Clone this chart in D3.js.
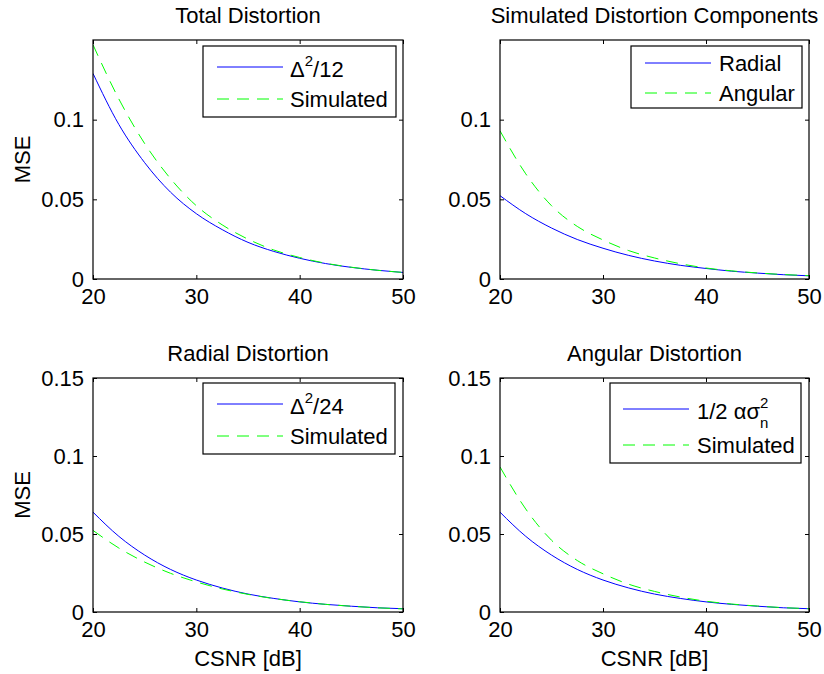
<!DOCTYPE html>
<html>
<head>
<meta charset="utf-8">
<script src="https://cdn.jsdelivr.net/npm/d3@7"></script>
<style>
  body { margin: 0; background: #fff; }
  svg text { font-family: "Liberation Sans", Arial, sans-serif; fill: #000; }
</style>
</head>
<body>
<div id="chart"></div>
<script>
// values
const csnr = [20, 22.5, 25, 27.5, 30, 32.5, 35, 37.5, 40, 42.5, 45, 47.5, 50];

const totalTheory = [0.129, 0.097, 0.073, 0.0545, 0.041, 0.031, 0.023, 0.0173, 0.013, 0.0097, 0.0073, 0.0055, 0.0041];
const totalSim = [0.147, 0.113, 0.085, 0.063, 0.046, 0.034, 0.025, 0.0182, 0.0135, 0.0099, 0.0074, 0.0055, 0.0041];

const radialTheory = [0.064, 0.0485, 0.0365, 0.0273, 0.0205, 0.0154, 0.0115, 0.0087, 0.0065, 0.0049, 0.0037, 0.0027, 0.0021];
const radialSim = [0.0523, 0.041, 0.032, 0.0248, 0.0193, 0.0148, 0.0113, 0.0086, 0.0066, 0.0049, 0.0037, 0.0027, 0.002];

const angularTheory = [0.064, 0.0485, 0.0365, 0.0273, 0.0205, 0.0154, 0.0115, 0.0087, 0.0065, 0.0049, 0.0037, 0.0027, 0.0021];
const angularSim = [0.093, 0.066, 0.046, 0.033, 0.0245, 0.0178, 0.0132, 0.0096, 0.0069, 0.0051, 0.0038, 0.0028, 0.0021];

const xTicks = [20, 30, 40, 50];
const yTicksTop = [0, 0.05, 0.1];
const yTicksBottom = [0, 0.05, 0.1, 0.15];

const w = 824;
const h = 674;
const fontSize = 22;

const panels = [
  { title: 'Total Distortion', box: [93, 40, 403, 279], yTicks: yTicksTop, ylabel: true, xlabel: false,
    series: [totalTheory, totalSim],
    legend: { box: [203, 46, 396, 117], x1: 217, x2: 283, tx: 290, rows: [67, 99],
      labels: [{ main: 'Δ', sup: '2', rest: '/12' }, { main: 'Simulated' }] } },
  { title: 'Simulated Distortion Components', box: [500, 40, 809, 279], yTicks: yTicksTop, ylabel: false, xlabel: false,
    series: [radialSim, angularSim],
    legend: { box: [631, 46, 802, 108], x1: 645, x2: 711, tx: 719, rows: [63, 93],
      labels: [{ main: 'Radial' }, { main: 'Angular' }] } },
  { title: 'Radial Distortion', box: [93, 378, 403, 612], yTicks: yTicksBottom, ylabel: true, xlabel: true,
    series: [radialTheory, radialSim],
    legend: { box: [203, 383, 395, 454], x1: 217, x2: 283, tx: 290, rows: [404, 436],
      labels: [{ main: 'Δ', sup: '2', rest: '/24' }, { main: 'Simulated' }] } },
  { title: 'Angular Distortion', box: [500, 378, 809, 612], yTicks: yTicksBottom, ylabel: false, xlabel: true,
    series: [angularTheory, angularSim],
    legend: { box: [610, 383, 801, 463], x1: 623, x2: 689, tx: 697, rows: [409, 445],
      labels: [{ main: '1/2 ασ', sup: '2', sub: 'n' }, { main: 'Simulated' }] } }
];

const seriesStyle = [
  { color: '#0000ff', dash: null },
  { color: '#00ff00', dash: '12,8' }
];

const svg = d3.select('#chart').
  append('svg').
  attr('width', w).
  attr('height', h).
  style('font-size', fontSize + 'px');

panels.forEach(function (p) {
  const [x0, y0, x1, y1] = p.box;
  const xScale = d3.scaleLinear().domain([20, 50]).range([x0, x1]);
  const yScale = d3.scaleLinear().domain([0, 0.15]).range([y1, y0]);

  const g = svg.append('g');

  g.append('clipPath').attr('id', 'clip' + x0 + y0).
    append('rect').attr('x', x0).attr('y', y0).attr('width', x1 - x0).attr('height', y1 - y0);

  // curves
  const line = d3.line().
    x((d, i) => xScale(csnr[i])).
    y(d => yScale(d)).
    curve(d3.curveMonotoneX);

  p.series.forEach(function (vals, k) {
    g.append('path').
      attr('d', line(vals)).
      attr('fill', 'none').
      attr('stroke', seriesStyle[k].color).
      attr('stroke-width', 1).
      attr('stroke-dasharray', seriesStyle[k].dash).
      attr('clip-path', 'url(#clip' + x0 + y0 + ')');
  });

  // axes: ticks pointing inward on all four sides
  const tick = 4;
  const xb = d3.axisBottom(xScale).tickValues(xTicks).tickSize(-tick).tickPadding(9).tickFormat(d3.format('d'));
  const xt = d3.axisTop(xScale).tickValues(xTicks).tickSize(-tick).tickFormat('');
  const yl = d3.axisLeft(yScale).tickValues(p.yTicks).tickSize(-tick).tickPadding(9).tickFormat(d => d === 0 ? '0' : String(d));
  const yr = d3.axisRight(yScale).tickValues(p.yTicks).tickSize(-tick).tickFormat('');

  [[xb, 'translate(0,' + y1 + ')'], [xt, 'translate(0,' + y0 + ')'],
   [yl, 'translate(' + x0 + ',0)'], [yr, 'translate(' + x1 + ',0)']].forEach(function (a) {
    const ax = g.append('g').attr('transform', a[1]).call(a[0]);
    ax.select('.domain').remove();
    ax.selectAll('line').attr('stroke', '#000');
    ax.selectAll('text').attr('font-size', fontSize).attr('font-family', null).attr('fill', '#000');
  });

  g.append('rect').
    attr('x', x0).attr('y', y0).
    attr('width', x1 - x0).attr('height', y1 - y0).
    attr('fill', 'none').attr('stroke', '#000').attr('stroke-width', 1.2);

  // title and labels
  g.append('text').
    attr('x', (x0 + x1) / 2).
    attr('y', y0 - 17).
    attr('text-anchor', 'middle').
    text(p.title);

  if (p.ylabel) {
    g.append('text').
      attr('transform', 'translate(30,' + (y0 + y1) / 2 + ') rotate(-90)').
      attr('text-anchor', 'middle').
      text('MSE');
  }
  if (p.xlabel) {
    g.append('text').
      attr('x', (x0 + x1) / 2).
      attr('y', y1 + 54).
      attr('text-anchor', 'middle').
      text('CSNR [dB]');
  }

  // legend
  const L = p.legend;
  g.append('rect').
    attr('x', L.box[0]).attr('y', L.box[1]).
    attr('width', L.box[2] - L.box[0]).attr('height', L.box[3] - L.box[1]).
    attr('fill', '#fff').attr('stroke', '#000').attr('stroke-width', 1.2);

  L.labels.forEach(function (lab, k) {
    const ly = L.rows[k];
    g.append('line').
      attr('x1', L.x1).attr('x2', L.x2).
      attr('y1', ly).attr('y2', ly).
      attr('stroke', seriesStyle[k].color).
      attr('stroke-width', 1).
      attr('stroke-dasharray', seriesStyle[k].dash);

    const baseY = ly + (lab.sup ? 10 : 8);
    const t = g.append('text').attr('x', L.tx).attr('y', baseY);
    t.append('tspan').text(lab.main);
    if (lab.sup) {
      t.append('tspan').attr('font-size', 15).attr('dy', -11).text(lab.sup);
      if (lab.sub) {
        t.append('tspan').attr('font-size', 15).attr('dx', -8.3).attr('dy', 20).text(lab.sub);
      }
      if (lab.rest) {
        t.append('tspan').attr('dy', 11).text(lab.rest);
      }
    }
  });
});
</script>
</body>
</html>
